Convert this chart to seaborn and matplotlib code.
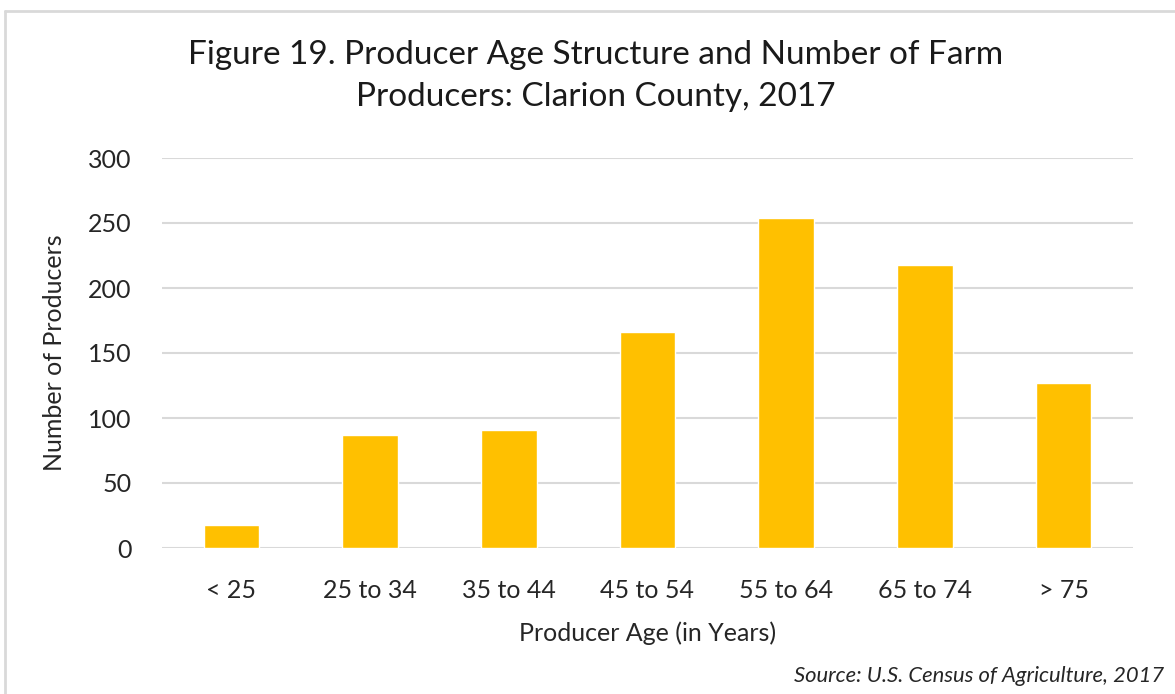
import seaborn as sns
import matplotlib.pyplot as plt
from matplotlib.lines import Line2D
import pandas as pd

# dados
grupos_idade = ['< 25', '25 to 34', '35 to 44', '45 to 54', '55 to 64', '65 to 74', '> 75']
produtores = [18, 87, 91, 166, 254, 218, 127]

dados = pd.DataFrame({'Idade': grupos_idade, 'Produtores': produtores})

sns.set_theme(style='white')
plt.rcParams['font.family'] = ['Lato', 'DejaVu Sans']

fig = plt.figure(figsize=(11.75, 6.94), dpi=100)
ax = fig.add_axes([162 / 1175, 1 - 548 / 694, (1133 - 162) / 1175, (548 - 158) / 694])

sns.barplot(data=dados, x='Idade', y='Produtores', color='#FFC000', width=0.40,
            saturation=1, ax=ax, zorder=3)

ax.set_ylim(0, 300)
ax.set_xlim(-0.5, 6.5)
ax.set_yticks(range(0, 301, 50))
ax.yaxis.grid(True, color='#D9D9D9', linewidth=1.5, zorder=0)
ax.set_axisbelow(True)
for s in ax.spines.values():
    s.set_visible(False)
ax.tick_params(axis='both', length=0, labelsize=18, colors='#262626')
ax.tick_params(axis='y', pad=22)
ax.tick_params(axis='x', pad=22)
ax.set_xlabel('Producer Age (in Years)', fontsize=18, color='#262626', labelpad=14)
ax.set_ylabel('Number of Producers', fontsize=18, color='#262626', labelpad=16)

fig.text(596 / 1175, 1 - 76 / 694, 'Figure 19. Producer Age Structure and Number of Farm\nProducers: Clarion County, 2017',
         ha='center', va='center', fontsize=24, color='#1a1a1a', linespacing=1.5)
fig.text(1164 / 1175, 1 - 676 / 694, 'Source: U.S. Census of Agriculture, 2017',
         ha='right', va='center', fontsize=15.8, style='italic', color='#262626')

# moldura cinza do grafico
fig.add_artist(Line2D([5 / 1175, 1], [1 - 11 / 694, 1 - 11 / 694], color='#D9D9D9', linewidth=2))
fig.add_artist(Line2D([5 / 1175, 5 / 1175], [0, 1 - 11 / 694], color='#D9D9D9', linewidth=2))

fig.savefig('out.png', dpi=100, facecolor='white')
